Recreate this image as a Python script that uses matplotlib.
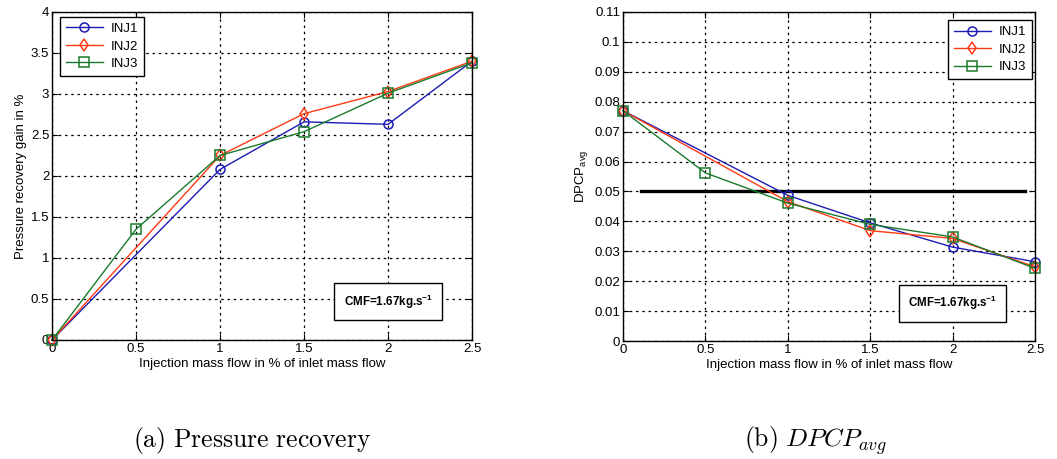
import matplotlib
matplotlib.use("Agg")
import matplotlib.pyplot as plt

plt.rcParams['font.family'] = ['Liberation Sans', 'DejaVu Sans']
plt.rcParams['mathtext.fontset'] = 'custom'
plt.rcParams['mathtext.rm'] = 'Liberation Sans'
plt.rcParams['mathtext.bf'] = 'Liberation Sans:bold'
plt.rcParams['mathtext.it'] = 'Liberation Sans:italic'

# Injection mass flow (% of inlet mass flow)
x_full = [0, 0.5, 1, 1.5, 2, 2.5]
x_sparse = [0, 1, 1.5, 2, 2.5]
x_ticklabels = ['0', '0.5', '1', '1.5', '2', '2.5']

# (a) Pressure recovery gain in %
pr_inj1 = [0.0, 2.08, 2.66, 2.63, 3.40]
pr_inj2 = [0.0, 2.25, 2.76, 3.03, 3.40]
pr_inj3 = [0.0, 1.35, 2.25, 2.54, 3.01, 3.38]
pr_yticks = [0, 0.5, 1, 1.5, 2, 2.5, 3, 3.5, 4]
pr_yticklabels = ['0', '0.5', '1', '1.5', '2', '2.5', '3', '3.5', '4']

# (b) DPCP_avg
dp_inj1 = [0.077, 0.0487, 0.0395, 0.0314, 0.0265]
dp_inj2 = [0.077, 0.0466, 0.0369, 0.0343, 0.0248]
dp_inj3 = [0.077, 0.0562, 0.0461, 0.0390, 0.0348, 0.0243]
dp_yticks = [0, 0.01, 0.02, 0.03, 0.04, 0.05, 0.06, 0.07, 0.08, 0.09, 0.1, 0.11]
dp_yticklabels = ['0', '0.01', '0.02', '0.03', '0.04', '0.05', '0.06', '0.07',
                  '0.08', '0.09', '0.1', '0.11']
dp_limit = 0.05
limit_span = [0.11, 2.44]

labels = ['INJ1', 'INJ2', 'INJ3']
colors = ['#1c1cb4', '#ff3a14', '#1a7a2c']
markers = ['o', 'd', 's']

FS = 9.5

fig = plt.figure(figsize=(10.57, 4.59), dpi=100)
ax1 = fig.add_axes([0.0492, 0.2593, 0.3974, 0.7146])
ax2 = fig.add_axes([0.5894, 0.2570, 0.3898, 0.7169])


def style_axes(ax):
    ax.grid(True, color='black', linestyle=(0, (2, 3)), linewidth=0.9)
    ax.tick_params(direction='in', length=4, labelsize=FS, top=True, right=True,
                   labeltop=False, labelright=False, pad=2)
    for s in ax.spines.values():
        s.set_linewidth(1.0)
        s.set_color('black')
    ax.set_xlabel('Injection mass flow in % of inlet mass flow', fontsize=FS, labelpad=2)


def marker_kw(m, c):
    return dict(marker=m, markersize=6.5, markerfacecolor='none', markeredgecolor=c,
                markeredgewidth=1.1, color=c, linewidth=1.0)


def add_legend(ax, loc, anchor):
    leg = ax.legend(loc=loc, bbox_to_anchor=anchor, fontsize=FS, frameon=True,
                    fancybox=False, edgecolor='black', handlelength=2.8,
                    borderpad=0.45, labelspacing=0.4, handletextpad=0.6,
                    borderaxespad=0)
    leg.get_frame().set_linewidth(1.0)
    leg.get_frame().set_alpha(1)


def add_cmf(ax, xf, yf):
    ax.text(xf, yf, r'CMF=1.67kg.s$^{\mathbf{-1}}$', transform=ax.transAxes,
            fontsize=8.4, fontweight='bold', ha='center', va='center', zorder=5,
            bbox=dict(boxstyle='square,pad=0.8', facecolor='white',
                      edgecolor='black', linewidth=1.0))


# Left panel
series_a = [(x_sparse, pr_inj1), (x_sparse, pr_inj2), (x_full, pr_inj3)]
for (xs, ys), lab, c, m in zip(series_a, labels, colors, markers):
    ax1.plot(xs, ys, label=lab, clip_on=False, **marker_kw(m, c))
ax1.set_xlim(0, 2.5)
ax1.set_ylim(0, 4)
ax1.set_xticks(x_full)
ax1.set_xticklabels(x_ticklabels)
ax1.set_yticks(pr_yticks)
ax1.set_yticklabels(pr_yticklabels)
ax1.set_ylabel('Pressure recovery gain in %', fontsize=FS, labelpad=3)
style_axes(ax1)
add_legend(ax1, 'upper left', (0.019, 0.985))
add_cmf(ax1, 0.80, 0.116)

# Right panel
series_b = [(x_sparse, dp_inj1), (x_sparse, dp_inj2), (x_full, dp_inj3)]
ax2.plot(limit_span, [dp_limit, dp_limit], color='black', linewidth=2.4, zorder=1.5)
for (xs, ys), lab, c, m in zip(series_b, labels, colors, markers):
    ax2.plot(xs, ys, label=lab, clip_on=False, **marker_kw(m, c))
ax2.set_xlim(0, 2.5)
ax2.set_ylim(0, 0.11)
ax2.set_xticks(x_full)
ax2.set_xticklabels(x_ticklabels)
ax2.set_yticks(dp_yticks)
ax2.set_yticklabels(dp_yticklabels)
ax2.set_ylabel(r'DPCP$_{\mathrm{avg}}$', fontsize=FS, labelpad=3)
style_axes(ax2)
add_legend(ax2, 'upper right', (0.993, 0.975))
add_cmf(ax2, 0.80, 0.115)

# Sub-captions
fig.text(252 / 1057, 1 - 440 / 459, r'$\mathrm{(a)\ Pressure\ recovery}$',
         fontsize=18.5, ha='center', va='center', math_fontfamily='cm')
fig.text(816 / 1057, 1 - 441 / 459, r'$\mathrm{(b)}\ DPCP_{avg}$',
         fontsize=18.5, ha='center', va='center', math_fontfamily='cm')

fig.savefig('out.png', dpi=100)
